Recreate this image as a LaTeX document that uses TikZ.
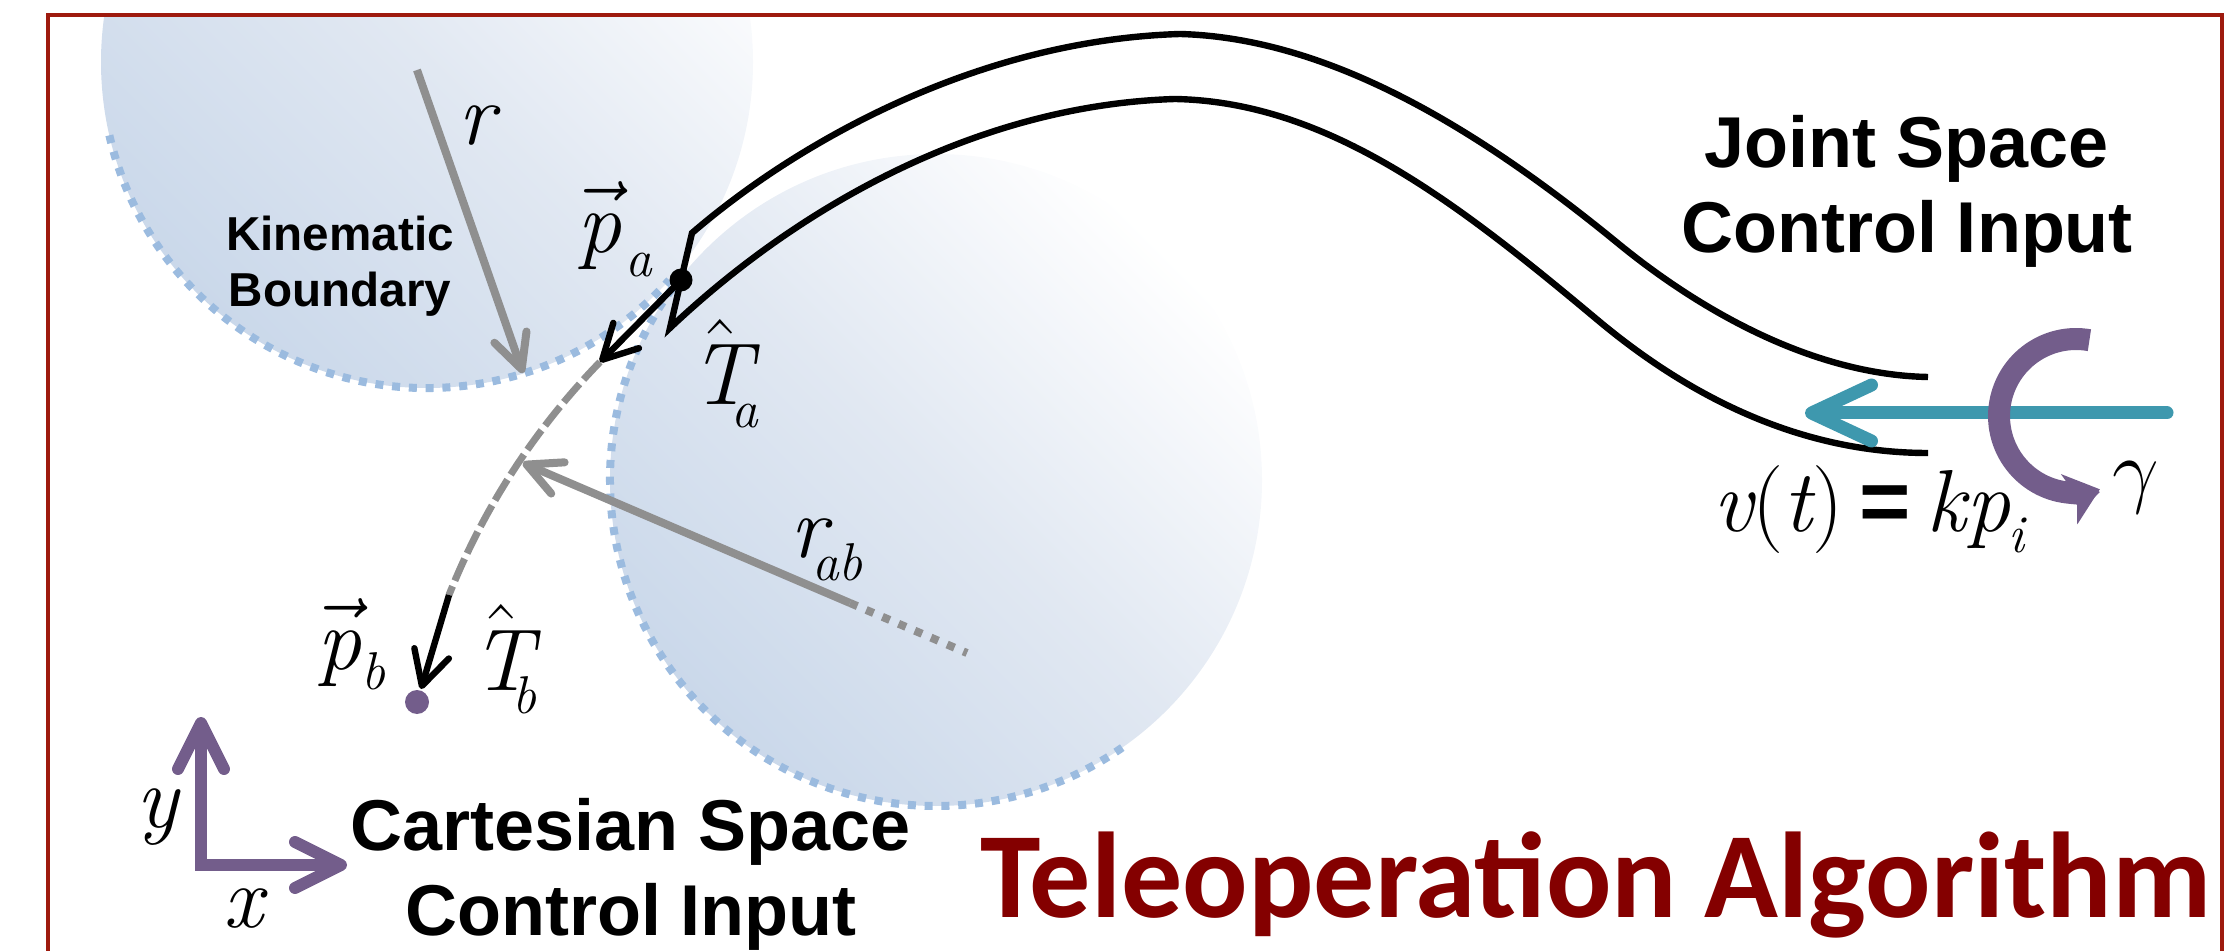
\documentclass[tikz,border=0pt]{standalone}
\usepackage{fontspec}
\usetikzlibrary{arrows.meta}
\newfontfamily\lsans{Liberation Sans}
\newfontfamily\calib{Carlito}
\definecolor{framered}{HTML}{9E1A0E}
\definecolor{titlered}{HTML}{840000}
\definecolor{dotblue}{HTML}{9BBBDF}
\definecolor{fillblue}{HTML}{CAD8EA}
\definecolor{fillmid}{HTML}{E1E8F2}
\definecolor{arrowgray}{HTML}{8F8F8F}
\definecolor{tealarrow}{HTML}{3E98AE}
\definecolor{purparrow}{HTML}{735D8B}
\newcommand\mtfont{\rmfamily\itshape\fontsize{22}{26}\selectfont}
\newcommand\lowsub[2]{\raisebox{#1}{\fontsize{13.3}{16}\selectfont #2}}
\newcommand\vecbox[1]{{\fontsize{28}{28}\selectfont$\vec{\hbox{\mtfont #1}}$}}
\newcommand\hatbox[1]{{\fontsize{30}{30}\selectfont$\hat{\hbox{\mtfont #1}}$}}
\begin{document}
\begin{tikzpicture}[x=0.25pt, y=-0.25pt,
  every node/.style={inner sep=0pt, outer sep=0pt},
  frameline/.style={draw=framered, line width=1pt},
  diskfill/.style={top color=white, bottom color=fillblue, middle color=fillmid, shading angle=-45},
  bluedots/.style={draw=dotblue, line width=2pt, dash pattern=on 2pt off 2.2pt},
  grayarrow/.style={draw=arrowgray, line width=2pt, -{Straight Barb[length=8.5pt, width=8.5pt, round]}},
  graydots/.style={draw=arrowgray, line width=2pt, dash pattern=on 2pt off 2.4pt},
  graydash/.style={draw=arrowgray, line width=1.75pt, dash pattern=on 6pt off 1.5pt},
  tube/.style={draw=black, line width=1.6pt, line join=miter},
  blackarrow/.style={draw=black, line width=1.6pt, -{Straight Barb[length=8.5pt, width=9pt, round]}},
  tealstyle/.style={draw=tealarrow, line width=3.25pt, line cap=round, -{Straight Barb[length=15pt, width=14pt, round]}},
  purparc/.style={draw=purparrow, line width=5.5pt, -{Stealth[length=8pt, width=13pt, inset=2pt]}},
  axesstyle/.style={draw=purparrow, line width=3pt, line join=miter, {Straight Barb[length=11.5pt, width=11.5pt, round]}-{Straight Barb[length=11.5pt, width=11.5pt, round]}},
  mathlbl/.style={anchor=base west, font=\mtfont},
  sanslbl/.style={anchor=base, align=center, font=\lsans\bfseries\fontsize{18}{21.25}\selectfont}
]
\useasboundingbox (0,0) rectangle (2227,951);
\clip (0,0) rectangle (2227,951);

% circle centres
\coordinate (cA) at (427,62);
\coordinate (cB) at (936,480);

% shaded disks
\begin{scope}
  \clip (50,17) rectangle (2220,951);
  \shade[diskfill] (cA) circle[radius=326];
  \shade[diskfill] (cB) circle[radius=326];
\end{scope}

% dotted boundaries
\draw[bluedots] (cA) ++(167:326) arc[start angle=167, end angle=42, radius=326];
\draw[bluedots] (cB) ++(216:326) arc[start angle=216, end angle=54, radius=326];

% frame
\draw[frameline] (48,975) -- (48,15) -- (2222,15) -- (2222,975);

% radius r
\coordinate (rstart) at (417,70);
\coordinate (rtip) at (523,373);
\draw[grayarrow] (rstart) -- (rtip);

% radius r_ab
\coordinate (rabcenter) at (967,653);
\coordinate (rabmid) at (850,603);
\coordinate (rabtip) at (523,463);
\draw[graydots] (rabmid) -- (rabcenter);
\draw[grayarrow] (rabmid) -- (rabtip);

% dashed arc from a to b
\coordinate (tatip) at (600,362);
\coordinate (tbstart) at (449,595);
\draw[graydash] (tatip) .. controls (535,429) and (484,507) .. (tbstart);

% tube (joint space)
\coordinate (pa) at (681,280);
\coordinate (outerend) at (1928,377);
\coordinate (innerend) at (1928,453);
\draw[tube] (outerend) .. controls (1820,375) and (1710,318) .. (1620,245)
  .. controls (1480,130) and (1330,38) .. (1180,34)
  .. controls (980,40) and (800,140) .. (692,233)
  -- (pa) -- (670,328)
  .. controls (800,205) and (980,105) .. (1175,99)
  .. controls (1330,102) and (1460,205) .. (1600,322)
  .. controls (1700,405) and (1810,453) .. (innerend);

% tangent arrows and points
\draw[blackarrow] (pa) -- (tatip);
\node[circle, fill=black, minimum size=5.75pt] (padot) at (pa) {};
\coordinate (pb) at (417,702);
\coordinate (tbtip) at (421,689);
\draw[blackarrow] (tbstart) -- (tbtip);
\node[circle, fill=purparrow, minimum size=6pt] (pbdot) at (pb) {};

% joint input arrows
\coordinate (tealstart) at (2167,413);
\coordinate (tealtip) at (1805,413);
\draw[tealstyle] (tealstart) -- (tealtip);
\coordinate (gstart) at (2089.4,340.2);
\draw[purparc] (gstart) arc[start angle=280, end angle=72, radius=77];

% axes
\coordinate (ytip) at (201,717);
\coordinate (origin) at (201,865);
\coordinate (xtip) at (347,865);
\draw[axesstyle] (ytip) -- (origin) -- (xtip);

% math labels
\node[mathlbl] (rlbl) at (458,145) {r};
\node[mathlbl] (palbl) at (577,253) {\vecbox{p}\kern1pt\lowsub{-6pt}{a}};
\node[mathlbl] (talbl) at (690,405) {\hatbox{T}\kern-5pt\lowsub{-5.75pt}{a}};
\node[mathlbl] (rablbl) at (790,557) {r\kern-3.5pt\lowsub{-5.75pt}{ab}};
\node[mathlbl] (pblbl) at (317,670) {\vecbox{p}\lowsub{-5pt}{b}};
\node[mathlbl] (tblbl) at (471,690) {\hatbox{T}\kern-5pt\lowsub{-5.75pt}{b}};
\node[mathlbl] (vlbl) at (1713,532) {v{\upshape(}t{\upshape)}\hspace{4pt}{\lsans\upshape\bfseries =}\hspace{4pt}kp\kern-0.5pt\lowsub{-5.25pt}{i}};
\node[mathlbl] (glbl) at (2112,498) {$\gamma$};
\node[mathlbl] (xlbl) at (223,927) {x};
\node[mathlbl] (ylbl) at (136,827) {y};

% text labels
\node[anchor=base, align=center, font=\lsans\bfseries\fontsize{11.9}{14}\selectfont] (kin) at (340,307) {Kinematic\\Boundary};
\node[sanslbl] (joint) at (1907,253) {Joint Space\\Control Input};
\node[sanslbl] (cart) at (631,935) {Cartesian Space\\Control Input};
\node[anchor=base west, text=titlered, font=\calib\bfseries\fontsize{30.5}{36}\selectfont] (title) at (980,917) {Teleoperation Algorithm};
\end{tikzpicture}
\end{document}
